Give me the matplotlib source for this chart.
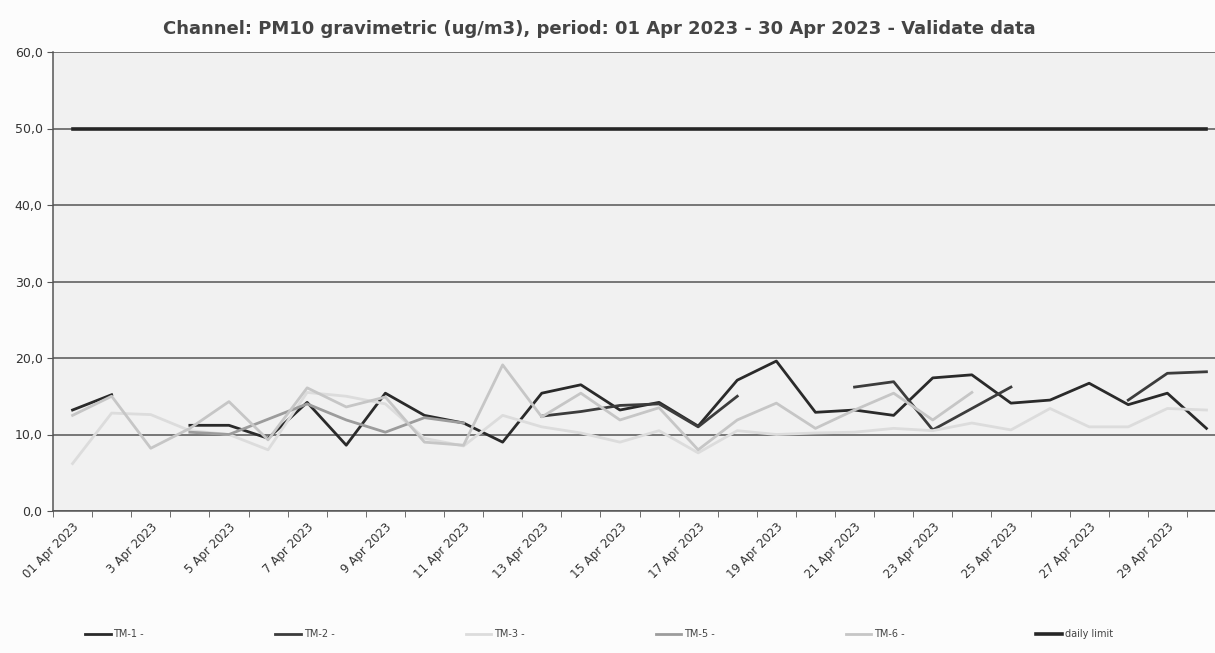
import numpy as np
import matplotlib
matplotlib.use("Agg")
import matplotlib.pyplot as plt

nan = np.nan

## Data ##
days = list(range(1, 31))
tick_days = list(range(1, 30, 2))
tick_labels = ["01 Apr 2023"] + [f"{d} Apr 2023" for d in tick_days[1:]]

tm1 = [13.2, 15.2, nan, 11.2, 11.2, 9.5, 14.2, 8.6, 15.4, 12.5,
       11.5, 9.0, 15.4, 16.5, 13.2, 14.2, 11.1, 17.1, 19.6, 12.9,
       13.2, 12.5, 17.4, 17.8, 14.1, 14.5, 16.7, 13.9, 15.4, 10.8]
tm2 = [nan, nan, nan, nan, nan, nan, nan, nan, nan, nan,
       nan, nan, 12.4, 13.0, 13.8, 14.0, 11.0, 15.0, nan, nan,
       16.2, 16.9, 10.6, 13.4, 16.2, nan, nan, 14.5, 18.0, 18.2]
tm3 = [6.2, 12.8, 12.6, 10.5, 10.0, 8.0, 15.5, 15.0, 14.0, 9.5,
       8.5, 12.5, 11.0, 10.2, 9.0, 10.5, 7.6, 10.5, 10.0, 10.2,
       10.3, 10.8, 10.5, 11.5, 10.6, 13.4, 11.0, 11.0, 13.4, 13.2]
tm5 = [nan, nan, nan, 10.3, 10.0, 12.0, 14.0, 11.9, 10.3, 12.2,
       11.5, nan, nan, nan, nan, nan, nan, nan, nan, nan,
       nan, nan, nan, nan, nan, nan, nan, nan, nan, nan]
tm6 = [12.5, 15.0, 8.2, 10.8, 14.3, 9.3, 16.1, 13.6, 14.9, 9.0,
       8.6, 19.1, 12.3, 15.4, 11.9, 13.5, 8.0, 11.9, 14.1, 10.8,
       13.2, 15.4, 11.9, 15.5, nan, nan, nan, nan, nan, nan]
daily_limit = [50.0] * 30

series = [
    ("TM-1 -", tm1, "#2a2a2a", 2.0),
    ("TM-2 -", tm2, "#3c3c3c", 2.0),
    ("TM-3 -", tm3, "#dcdcdc", 2.0),
    ("TM-5 -", tm5, "#9c9c9c", 2.0),
    ("TM-6 -", tm6, "#c6c6c6", 2.0),
    ("daily limit", daily_limit, "#262626", 2.6),
]

## Figure ##
fig = plt.figure(figsize=(12.15, 6.53), dpi=100, facecolor="#fcfcfc")
ax = fig.add_axes([53 / 1215, 1 - 511 / 653, 1162 / 1215, 459 / 653])
ax.set_facecolor("#f1f1f1")

for label, vals, color, lw in series:
    ax.plot(days, vals, color=color, lw=lw, label=label, zorder=3)

ax.set_xlim(0.5, 0.5 + 1162 / 39.1)
ax.set_ylim(0, 60)
ax.set_yticks(range(0, 61, 10))
ax.set_yticklabels([f"{v},0" for v in range(0, 61, 10)], fontsize=9, color="#333333")
ax.yaxis.grid(True, color="#555555", lw=1.1, zorder=1)
ax.set_axisbelow(True)

ax.set_xticks([d + 0.5 for d in range(0, 30)], minor=True)
ax.set_xticks(tick_days)
ax.set_xticklabels(tick_labels, rotation=45, ha="right", va="top",
                   fontsize=8.5, color="#333333", rotation_mode="anchor")
ax.tick_params(axis="x", which="major", length=0, pad=7)
ax.tick_params(axis="x", which="minor", length=4, color="#555555")
ax.tick_params(axis="y", length=4, color="#555555")

for side in ["top", "right"]:
    ax.spines[side].set_visible(False)
for side in ["left", "bottom"]:
    ax.spines[side].set_color("#555555")
    ax.spines[side].set_linewidth(1.1)

fig.text(0.493, 0.955, "Channel: PM10 gravimetric (ug/m3), period: 01 Apr 2023 - 30 Apr 2023 - Validate data",
         ha="center", va="center", fontsize=13, fontweight="bold", color="#444444")

fig.legend(loc="lower left", bbox_to_anchor=(0.063, 0.008, 0.86, 0.06), mode="expand",
           ncol=6, frameon=False, fontsize=7, handlelength=2.6, handletextpad=0.3,
           labelcolor="#444444")

fig.savefig("out.png", dpi=100, facecolor=fig.get_facecolor())
